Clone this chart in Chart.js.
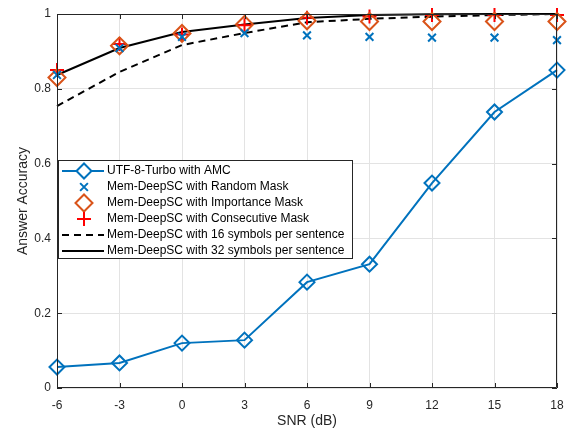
<!DOCTYPE html>
<html>
<head>
<meta charset="utf-8">
<script src="https://cdn.jsdelivr.net/npm/chart.js@4.4.1/dist/chart.umd.min.js"></script>
<style>
  html, body { margin: 0; padding: 0; background: #fff; }
  #wrap { width: 576px; height: 430px; }
</style>
</head>
<body>
<div id="wrap"><canvas id="chart" width="576" height="430"></canvas></div>
<script>
// SNR values (dB)
var snr = [-6, -3, 0, 3, 6, 9, 12, 15, 18];
// answer accuracy per scheme
var utf8Turbo       = [0.056, 0.067, 0.120, 0.128, 0.283, 0.331, 0.548, 0.738, 0.850];
var randomMask      = [0.837, 0.909, 0.939, 0.949, 0.943, 0.939, 0.937, 0.937, 0.930];
var importanceMask  = [0.830, 0.915, 0.948, 0.972, 0.982, 0.980, 0.980, 0.980, 0.980];
var consecutiveMask = [0.850, 0.920, 0.945, 0.970, 0.990, 0.993, 0.997, 0.997, 0.997];
var symbols16       = [0.754, 0.845, 0.917, 0.949, 0.978, 0.987, 0.993, 0.997, 1.000];
var symbols32       = [0.837, 0.909, 0.952, 0.972, 0.989, 0.997, 0.999, 1.000, 1.000];
var yTicks = [0, 0.2, 0.4, 0.6, 0.8, 1];

var FONT = "'Liberation Sans', Arial, Helvetica, sans-serif";
var AXIS = "#262626";
var GRID = "#e3e3e3";

function pts(ys){
	var out = [];
	for (var i = 0; i < snr.length; i++) out.push({x: snr[i], y: ys[i]});
	return out;
}

var datasets = [
	{ label: "UTF-8-Turbo with AMC", data: pts(utf8Turbo), borderColor: "#0072BD", backgroundColor: "#ffffff",
	  borderWidth: 2, pointStyle: "rectRot", pointRadius: 7.5, pointBorderWidth: 2, pointBackgroundColor: "rgba(255,255,255,0)", showLine: true },
	{ label: "Mem-DeepSC with Random Mask", data: pts(randomMask), borderColor: "#0072BD", backgroundColor: "#0072BD",
	  borderWidth: 2, pointStyle: "crossRot", pointRadius: 5.5, pointBorderWidth: 2, showLine: false },
	{ label: "Mem-DeepSC with Importance Mask", data: pts(importanceMask), borderColor: "#D95319", backgroundColor: "#D95319",
	  borderWidth: 2, pointStyle: "rectRot", pointRadius: 8.5, pointBorderWidth: 2, pointBackgroundColor: "rgba(255,255,255,0)", showLine: false },
	{ label: "Mem-DeepSC with Consecutive Mask", data: pts(consecutiveMask), borderColor: "#FF0000", backgroundColor: "#FF0000",
	  borderWidth: 2, pointStyle: "cross", pointRadius: 7, pointBorderWidth: 2, showLine: false },
	{ label: "Mem-DeepSC with 16 symbols per sentence", data: pts(symbols16), borderColor: "#000000", backgroundColor: "#000000",
	  borderWidth: 2, borderDash: [7, 5], pointRadius: 0, showLine: true },
	{ label: "Mem-DeepSC with 32 symbols per sentence", data: pts(symbols32), borderColor: "#000000", backgroundColor: "#000000",
	  borderWidth: 2, pointRadius: 0, showLine: true }
];
datasets.forEach(function(d){ d.clip = false; d.tension = 0; d.pointHoverRadius = d.pointRadius; });

// box, inward ticks, and legend like the original figure
var frame = {
	id: "frame",
	afterDatasetsDraw: function(chart){
		var ctx = chart.ctx, a = chart.chartArea;
		var xs = chart.scales.x, ys = chart.scales.y;
		ctx.save();
		ctx.strokeStyle = AXIS;
		ctx.lineWidth = 1;
		ctx.beginPath();
		ctx.rect(a.left + 0.5, a.top + 0.5, a.right - a.left - 1, a.bottom - a.top - 1);
		for (var i = 0; i < snr.length; i++){
			var px = Math.round(xs.getPixelForValue(snr[i])) + 0.5;
			ctx.moveTo(px, a.bottom); ctx.lineTo(px, a.bottom - 5);
			ctx.moveTo(px, a.top); ctx.lineTo(px, a.top + 5);
		}
		for (var j = 0; j < yTicks.length; j++){
			var py = Math.round(ys.getPixelForValue(yTicks[j])) + 0.5;
			ctx.moveTo(a.left, py); ctx.lineTo(a.left + 5, py);
			ctx.moveTo(a.right, py); ctx.lineTo(a.right - 5, py);
		}
		ctx.stroke();

		// legend
		var lx = 58, ly = 160, lw = 294, lh = 98, row = 16;
		ctx.fillStyle = "#ffffff";
		ctx.fillRect(lx, ly, lw, lh);
		ctx.strokeRect(lx + 0.5, ly + 0.5, lw, lh);
		ctx.font = "12px " + FONT;
		ctx.textBaseline = "middle";
		var ds = chart.data.datasets;
		for (var k = 0; k < ds.length; k++){
			var d = ds[k];
			var cy = ly + 11 + k * row;
			if (d.showLine){
				ctx.save();
				ctx.strokeStyle = d.borderColor;
				ctx.lineWidth = d.borderWidth;
				ctx.setLineDash(d.borderDash || []);
				ctx.beginPath();
				ctx.moveTo(62, cy); ctx.lineTo(104, cy);
				ctx.stroke();
				ctx.restore();
			}
			if (d.pointRadius > 0){
				ctx.save();
				ctx.strokeStyle = d.borderColor;
				ctx.fillStyle = "#ffffff";
				ctx.lineWidth = d.pointBorderWidth;
				Chart.helpers.drawPoint(ctx, { pointStyle: d.pointStyle, radius: d.pointRadius, borderWidth: d.pointBorderWidth, rotation: 0 }, 84, cy);
				ctx.restore();
			}
			ctx.fillStyle = "#000000";
			ctx.fillText(d.label, 107, cy);
		}
		ctx.restore();
	}
};

new Chart(document.getElementById("chart"), {
	type: "line",
	data: { datasets: datasets },
	options: {
		responsive: false,
		animation: false,
		events: [],
		layout: { padding: { left: 0, top: 14, right: 19, bottom: 0 } },
		plugins: { legend: { display: false }, tooltip: { enabled: false } },
		scales: {
			x: {
				type: "linear", min: -6, max: 18,
				afterBuildTicks: function(s){ s.ticks = snr.map(function(v){ return {value: v}; }); },
				afterFit: function(s){ s.height = 42; },
				grid: { color: GRID, drawTicks: false },
				border: { display: false },
				ticks: { color: AXIS, padding: 10, font: { family: FONT, size: 12 } },
				title: { display: true, text: "SNR (dB)", color: AXIS, padding: { top: 0, bottom: 0 }, font: { family: FONT, size: 14 } }
			},
			y: {
				type: "linear", min: 0, max: 1,
				afterBuildTicks: function(s){ s.ticks = yTicks.map(function(v){ return {value: v}; }); },
				afterFit: function(s){ s.width = 57; },
				grid: { color: GRID, drawTicks: false },
				border: { display: false },
				ticks: { color: AXIS, padding: 6, font: { family: FONT, size: 12 },
					callback: function(v){ return String(v); } },
				title: { display: true, text: "Answer Accuracy", color: AXIS, padding: { top: 15, bottom: 2 }, font: { family: FONT, size: 14 } }
			}
		}
	},
	plugins: [frame]
});
</script>
</body>
</html>
